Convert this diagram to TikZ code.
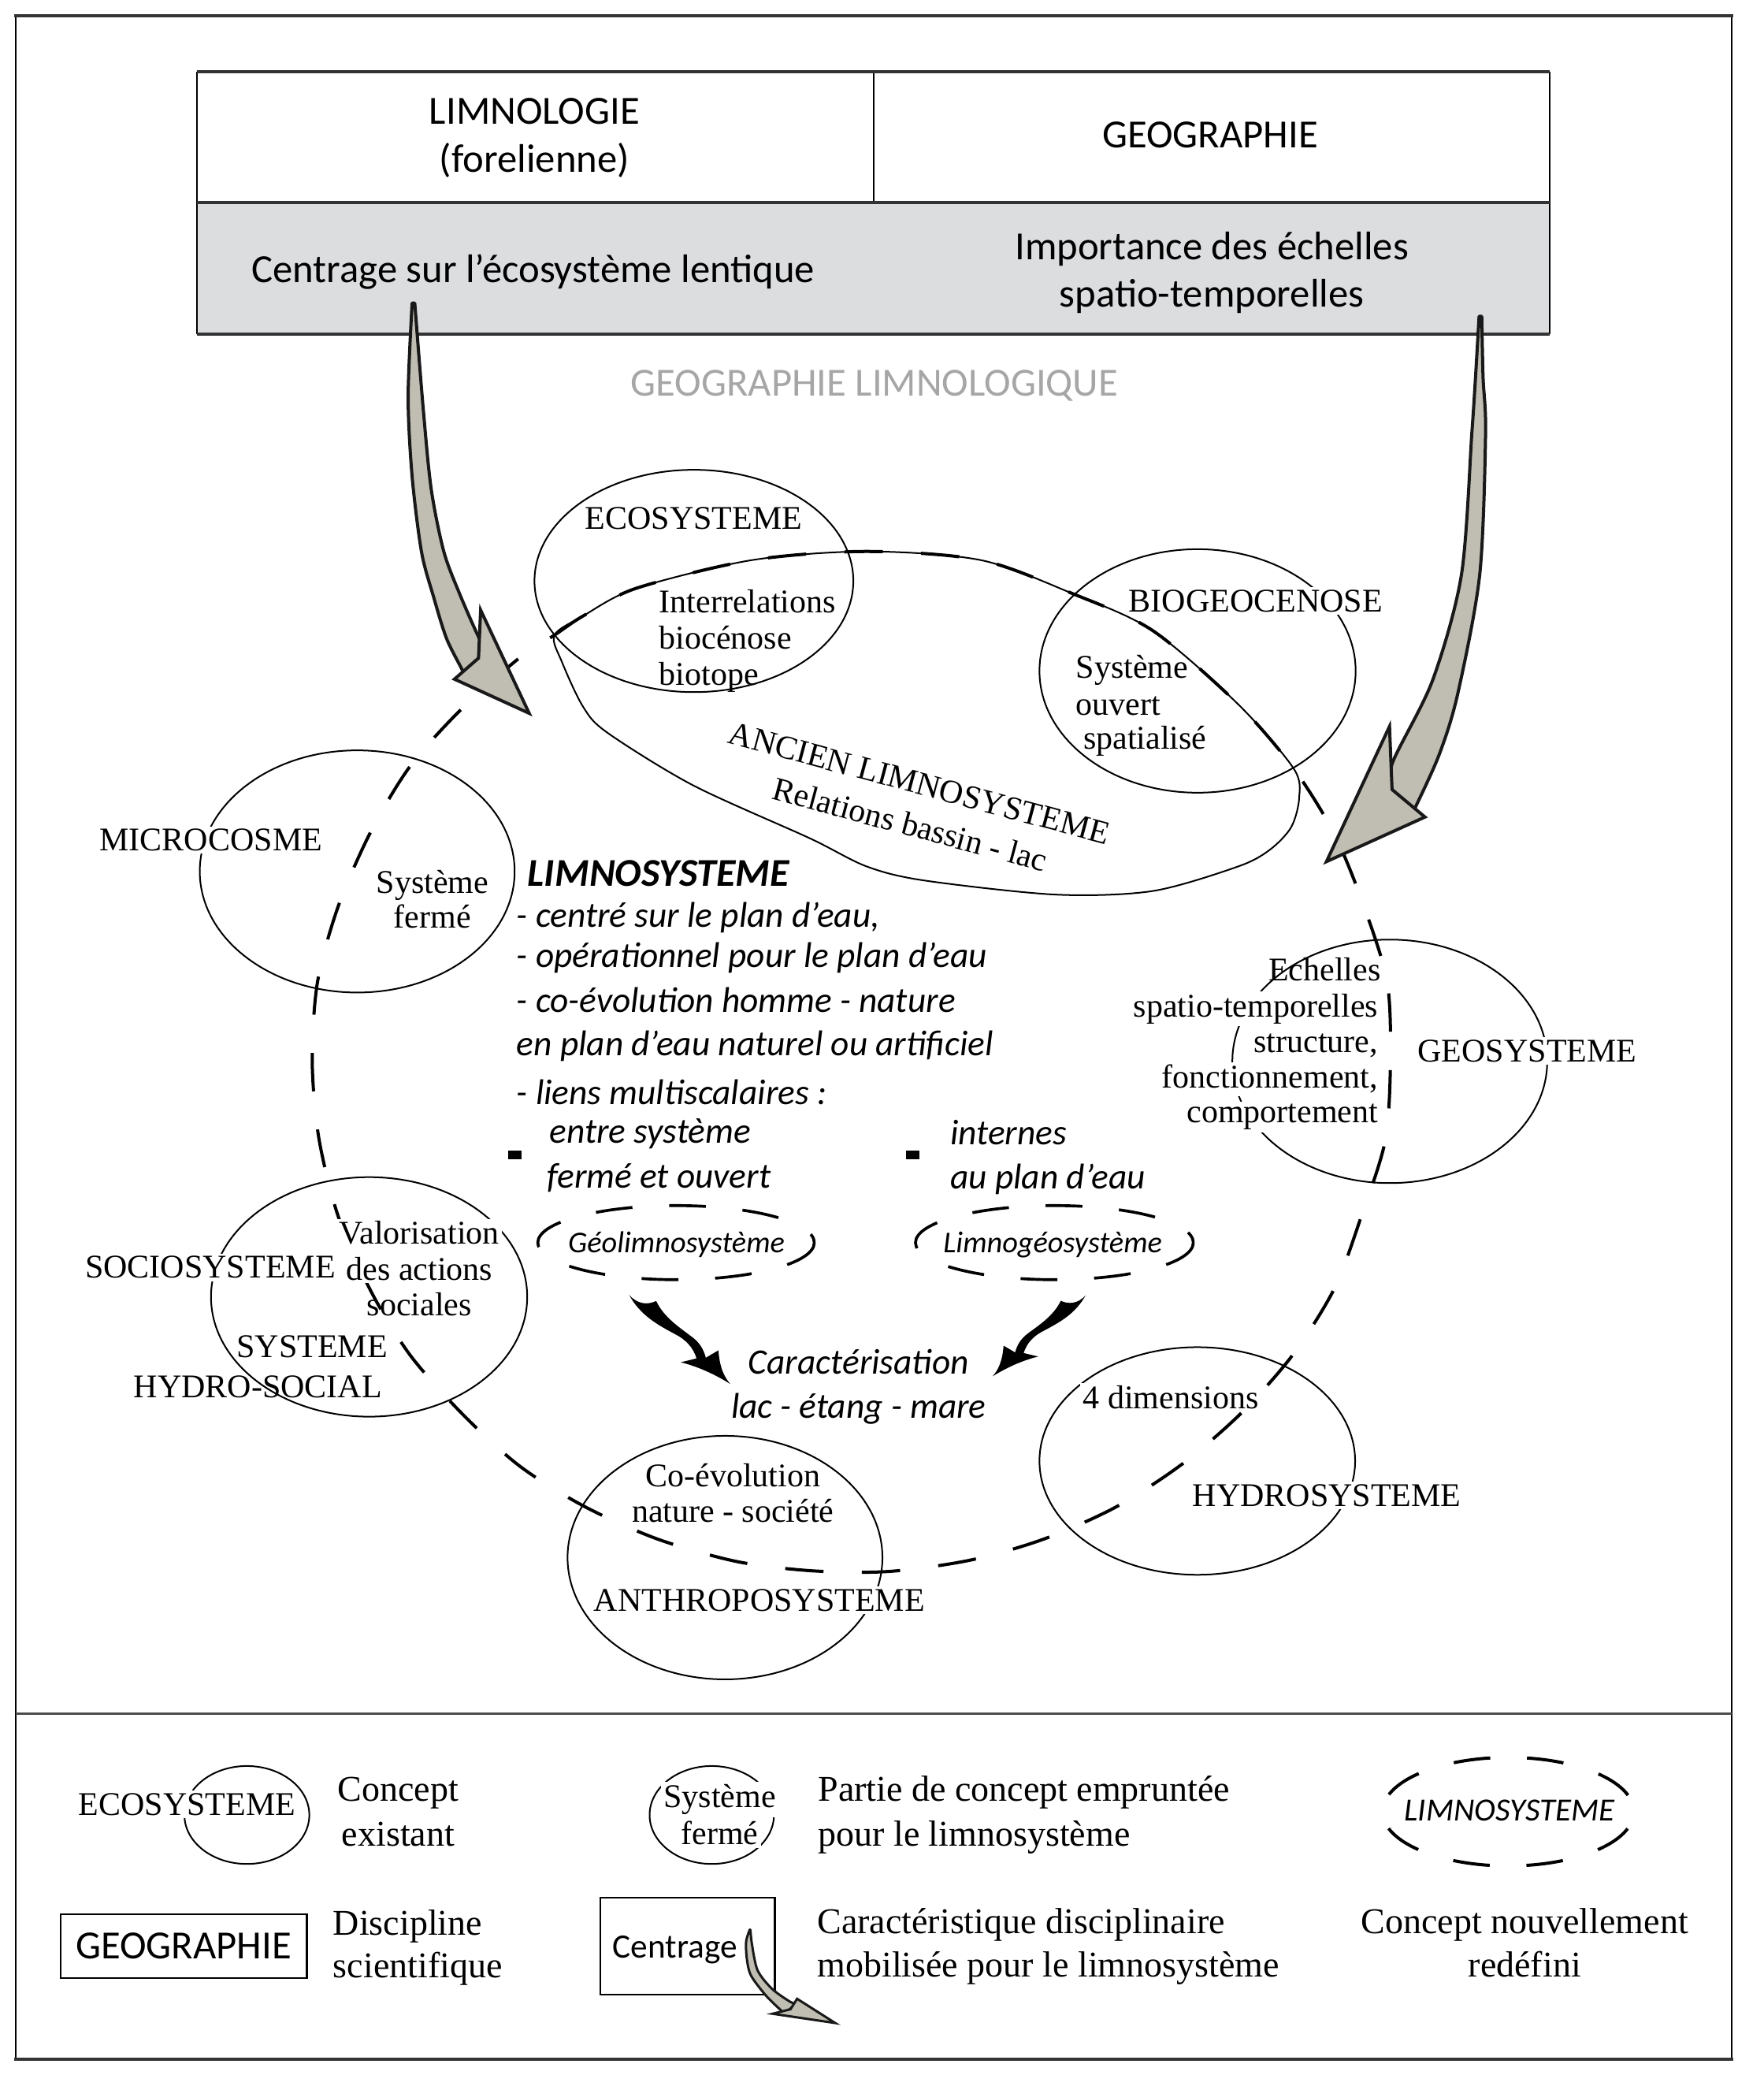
\documentclass[tikz,border=0pt]{standalone}
\usepackage{fontspec}
\setmainfont{Liberation Serif}
\newfontfamily\carl{Carlito}
\definecolor{arrowgray}{HTML}{C0BDB2}
\definecolor{boxgray}{HTML}{DCDDDF}
\begin{document}
\begin{tikzpicture}[x=0.5037pt,y=-0.5037pt,
  serif/.style={font=\fontsize{12.6}{15}\selectfont, inner sep=0pt, anchor=base},
  hide/.style={fill=white, inner sep=1pt},
  sansbig/.style={font=\carl\fontsize{15.2}{18}\selectfont, inner sep=0pt, anchor=base},
  ital/.style={font=\carl\itshape\fontsize{13.6}{16}\selectfont, inner sep=0pt, anchor=base west},
  leg/.style={font=\fontsize{13.8}{16}\selectfont, inner sep=0pt, anchor=base},
  concept/.style={line width=0.6pt},
  limno/.style={line width=1.2pt, dash pattern=on 14.6pt off 14.6pt},
  smalldash/.style={line width=1.1pt, dash pattern=on 14pt off 14pt},
  grayarrow/.style={fill=arrowgray, draw=black!90, line width=1.2pt},
  thickrule/.style={line width=1.3pt, draw=black!80},
]
\useasboundingbox (0,0) rectangle (1333,1568);

% outer frame
\draw[line width=0.6pt] (12,12) -- (12,1556) (1309,12) -- (1309,1556);
\draw[thickrule] (11,12) -- (1310,12) (11,1556) -- (1310,1556);
\draw[line width=0.7pt, black!70] (12,1295) -- (1309,1295);

% top box
\fill[boxgray] (149,153) rectangle (1171.5,252.3);
\draw[line width=0.5pt] (149,54.3) -- (149,252.3) (1171.5,54.3) -- (1171.5,252.3) (660.5,54.3) -- (660.5,153);
\draw[thickrule] (149,54.3) -- (1171.5,54.3) (149,153) -- (1171.5,153) (149,252.3) -- (1171.5,252.3);
\node[sansbig] (limnologie) at (404,93.7) {LIMNOLOGIE};
\node[sansbig] (forel) at (404,130.2) {(forelienne)};
\node[sansbig] (geographie) at (914.7,111.4) {GEOGRAPHIE};
\node[sansbig] (centrage) at (403,213.2) {Centrage sur l’écosystème lentique};
\node[sansbig] (importance) at (916,196.4) {Importance des échelles};
\node[sansbig] (spatiotemp) at (916,231.9) {spatio-temporelles};
\node[sansbig, text=black!35] (geolimnologique) at (661,299.1) {GEOGRAPHIE LIMNOLOGIQUE};

% concept ellipses
\draw[concept] (524.5,439) ellipse [x radius=120.5, y radius=84];
\draw[concept] (905.2,507) ellipse [x radius=119.5, y radius=92];
\draw[concept] (270,658.5) ellipse [x radius=119, y radius=91.5];
\draw[concept] (1050.5,802) ellipse [x radius=119, y radius=92];
\draw[concept] (279,980) ellipse [x radius=119.5, y radius=90.5];
\draw[concept] (548,1177) ellipse [x radius=119, y radius=92];
\draw[concept] (905,1104) ellipse [x radius=119.3, y radius=86];
% ancien limnosysteme
\draw[concept] plot[smooth cycle] coordinates {(419,480) (440.7,465.5) (480.7,444.6) (568,423.3) (655,416.7) (741.6,423.3) (810.8,448.6) (871.3,476.5) (936,532.3) (977.8,580.7) (982,603) (976,625) (960,642) (936,654.7) (871.3,673.3) (797.8,676) (698.4,665.3) (655,654.7) (612,633.4) (524,593.5) (459,553.6) (440.7,534) (424.8,500.3)};

% limnosysteme loop
\draw[limno] plot[smooth cycle] coordinates {(394,496) (419,480) (440.7,465.5) (480.7,444.6) (568,423.3) (655,416.7) (741.6,423.3) (810.8,448.6) (871.3,476.5) (936,532.3) (977.8,580.7) (1008.6,630.3) (1031,685) (1048.5,742) (1051,802) (1047,862) (1029,919) (1008.7,973.5) (977,1024) (938,1068) (894,1106) (844,1138.5) (789,1163) (733,1179) (671.5,1187.5) (614,1187) (557,1180) (497,1163) (442,1138.5) (393,1108) (350,1069) (310,1024) (280,975) (255.6,919) (241,860) (236,802) (240,742) (255.6,685) (280,629) (310,579) (349.6,535)};

% small dashed ellipses
\draw[smalldash] (511,939) ellipse [x radius=104.5, y radius=28];
\draw[smalldash] (797,939) ellipse [x radius=105, y radius=28];

% texts of concepts
\node[serif] (ecosysteme) at (524.4,399.7) {ECOSYSTEME};
\node[serif, anchor=base west] (interrel) at (498,463.3) {Interrelations};
\node[serif, anchor=base west] (biocenose) at (498,490.3) {biocénose};
\node[serif, anchor=base west] (biotope) at (498,518) {biotope};
\node[serif, hide] (biogeo) at (949.1,462.2) {BIOGEOCENOSE};
\node[serif, anchor=base west] (sysouv) at (813,512.7) {Système};
\node[serif, anchor=base west] (ouvert) at (813,540.6) {ouvert};
\node[serif, anchor=base west] (spatialise) at (818.6,565.9) {spatialisé};
\node[serif, anchor=center, rotate=-15] (ancien) at (695,592) {ANCIEN LIMNOSYSTEME};
\node[serif, anchor=center, rotate=-15] (relations) at (688,623) {Relations bassin - lac};
\node[serif, hide] (microcosme) at (159.5,643) {MICROCOSME};
\node[serif] (sysferme) at (326.9,675) {Système};
\node[serif] (ferme) at (326.9,701.5) {fermé};
\node[serif, anchor=base east] (echelles) at (1044,741.3) {Echelles};
\node[serif, hide, anchor=base east] (spatiot) at (1044,768.3) {spatio-temporelles};
\node[serif, hide, anchor=base east] (structure) at (1044,795.3) {structure,};
\node[serif, hide, anchor=base east] (fonction) at (1044,822.3) {fonctionnement,};
\node[serif, hide, anchor=base east] (comport) at (1044,848.3) {comportement};
\node[serif, hide] (geosysteme) at (1154.4,802.3) {GEOSYSTEME};
\node[serif, hide] (sociosysteme) at (159,965.8) {SOCIOSYSTEME};
\node[serif, hide] (valorisation) at (317,940.3) {Valorisation};
\node[serif, hide] (desactions) at (317,967.3) {des actions};
\node[serif] (sociales) at (317,994.3) {sociales};
\node[serif] (systeme) at (236,1025.7) {SYSTEME};
\node[serif] (hydrosocial) at (195,1056.3) {HYDRO-SOCIAL};
\node[serif] (coevol) at (554,1123.3) {Co-évolution};
\node[serif] (natsoc) at (554,1150.3) {nature - société};
\node[serif, hide] (anthropo) at (574,1217.3) {ANTHROPOSYSTEME};
\node[serif, hide] (quatredim) at (885,1064.3) {4 dimensions};
\node[serif, hide] (hydrosysteme) at (1003,1138.3) {HYDROSYSTEME};

% limnosysteme text block
\node[ital, font=\carl\bfseries\itshape\fontsize{15}{18}\selectfont] (limnotitle) at (398.5,669.7) {LIMNOSYSTEME};
\node[ital] (li1) at (390.2,700.6) {- centré sur le plan d’eau,};
\node[ital] (li2) at (390.2,730.7) {- opérationnel pour le plan d’eau};
\node[ital] (li3) at (390.2,764.7) {- co-évolution homme - nature};
\node[ital] (li4) at (390.2,797.7) {en plan d’eau naturel ou artificiel};
\node[ital] (li5) at (390.2,834.7) {- liens multiscalaires :};
\node[ital] (li6) at (415,863.7) {entre système};
\node[ital] (li7) at (413,897.7) {fermé et ouvert};
\node[ital] (li8) at (718,865.2) {internes};
\node[ital] (li9) at (718,898.4) {au plan d’eau};
\fill (384,869.7) rectangle (394,875.7);
\fill (684.8,869.7) rectangle (694.8,875.7);
\node[font=\carl\itshape\fontsize{11.5}{14}\selectfont, inner sep=0pt, anchor=base] (geolimno) at (511.3,946.4) {Géolimnosystème};
\node[font=\carl\itshape\fontsize{11.5}{14}\selectfont, inner sep=0pt, anchor=base] (limnogeo) at (795.7,946.4) {Limnogéosystème};
\node[ital, anchor=base] (carac) at (649,1038.5) {Caractérisation};
\node[ital, anchor=base] (lacetang) at (649,1071.7) {lac - étang - mare};

% black arrows
\begin{scope}[shift={(552,1045.8)}]
\fill (-76.5,-67.4) .. controls (-70,-59.8) and (-62,-59.8) .. (-56,-62.7)
  .. controls (-50,-49.8) and (-37,-41.8) .. (-28,-34.8)
  .. controls (-23,-30.8) and (-20,-25.8) .. (-18.5,-19.8) -- (-9,-25.4)
  .. controls (-8,-12.8) and (-5,-5.8) .. (0,0)
  .. controls (-14,-8.8) and (-27,-13.8) .. (-37.4,-16.4)
  .. controls (-32,-17.8) .. (-25.5,-19.3)
  .. controls (-28,-27.8) and (-34,-33.8) .. (-42,-37.8)
  .. controls (-55,-44.8) and (-68,-51.8) .. (-76.5,-67.4) -- cycle;
\end{scope}
\begin{scope}[shift={(750.3,1040)}, xscale=-0.92, yscale=0.91]
\fill (-76.5,-67.4) .. controls (-70,-59.8) and (-62,-59.8) .. (-56,-62.7)
  .. controls (-50,-49.8) and (-37,-41.8) .. (-28,-34.8)
  .. controls (-23,-30.8) and (-20,-25.8) .. (-18.5,-19.8) -- (-9,-25.4)
  .. controls (-8,-12.8) and (-5,-5.8) .. (0,0)
  .. controls (-14,-8.8) and (-27,-13.8) .. (-37.4,-16.4)
  .. controls (-32,-17.8) .. (-25.5,-19.3)
  .. controls (-28,-27.8) and (-34,-33.8) .. (-42,-37.8)
  .. controls (-55,-44.8) and (-68,-51.8) .. (-76.5,-67.4) -- cycle;
\end{scope}

% gray arrows
\filldraw[grayarrow, line join=round] plot[smooth] coordinates {(311.5,229) (308.5,300) (311.5,360) (318.6,417) (327.6,450.6) (337.5,482.4) (349.4,506.2) (354,516)}
  -- plot[smooth] coordinates {(368,492) (361.3,480.4) (347.4,448.7) (335.5,416.9) (326,370) (320,310) (313.5,229)} -- cycle;
\filldraw[grayarrow] (343.5,513.2) -- (361.7,497.3) -- (363.3,461) -- (400,539) -- cycle;
\filldraw[grayarrow, line join=round] plot[smooth] coordinates {(1118,239) (1115,290) (1112.5,327.6) (1104.7,434) (1083,513.7) (1053.2,574.7) (1048,600)}
  -- plot[smooth] coordinates {(1066,617) (1070.1,609.5) (1088,569.8) (1101.9,524.1) (1118.5,434) (1122.9,327.6) (1121,285) (1120,239)} -- cycle;
\filldraw[grayarrow] (1077.1,617.4) -- (1052.2,596.6) -- (1050.3,548.9) -- (1002.6,651.1) -- cycle;

% legend
\draw[concept] (186.6,1371.5) ellipse [x radius=47.2, y radius=37];
\node[serif, hide] (legeco) at (141.4,1371.8) {ECOSYSTEME};
\node[leg] (concept1) at (301,1361) {Concept};
\node[leg] (concept2) at (301,1394.7) {existant};
\draw[concept] (538,1371.5) ellipse [x radius=47, y radius=37];
\node[serif, hide] (legsys1) at (544,1366) {Système};
\node[serif, hide] (legsys2) at (544,1394) {fermé};
\node[leg, anchor=base west] (partie1) at (618,1361) {Partie de concept empruntée};
\node[leg, anchor=base west] (partie2) at (618,1394.7) {pour le limnosystème};
\draw[limno, dash pattern=on 14pt off 14pt, dash phase=21pt] (1140,1369) ellipse [x radius=95, y radius=41];
\node[font=\carl\itshape\fontsize{12.3}{14}\selectfont, inner sep=0pt, anchor=base] (leglimno) at (1141,1376) {LIMNOSYSTEME};
\draw[line width=0.7pt] (45.7,1446.5) rectangle (231.9,1494.9);
\node[sansbig] (leggeo) at (138.8,1480) {GEOGRAPHIE};
\node[leg, anchor=base west] (disc1) at (251.5,1462) {Discipline};
\node[leg, anchor=base west] (disc2) at (251.5,1494.5) {scientifique};
\draw[line width=0.7pt] (453.6,1433.8) rectangle (585.6,1507.2);
\node[font=\carl\fontsize{13}{15}\selectfont, inner sep=0pt, anchor=base] (legcentrage) at (510.2,1479.5) {Centrage};
\filldraw[grayarrow, line width=0.9pt, line join=round] plot[smooth] coordinates {(566.7,1458.2) (564,1467) (564.5,1480) (567.7,1492.9) (579.7,1508.8) (593,1521.5)}
  -- plot[smooth] coordinates {(602,1514) (597.5,1512.8) (583.6,1502.9) (572.7,1489) (568.5,1470) (567.2,1458.2)} -- cycle;
\filldraw[grayarrow, line width=0.9pt] (584,1521.7) -- (597.5,1518.3) -- (602.5,1510.4) -- (631.3,1528.7) -- cycle;
\node[leg, anchor=base west] (carac1) at (617.4,1461) {Caractéristique disciplinaire};
\node[leg, anchor=base west] (carac2) at (617.4,1494) {mobilisée pour le limnosystème};
\node[leg] (nouv1) at (1152.5,1461) {Concept nouvellement};
\node[leg] (nouv2) at (1152.5,1494) {redéfini};
\end{tikzpicture}
\end{document}
